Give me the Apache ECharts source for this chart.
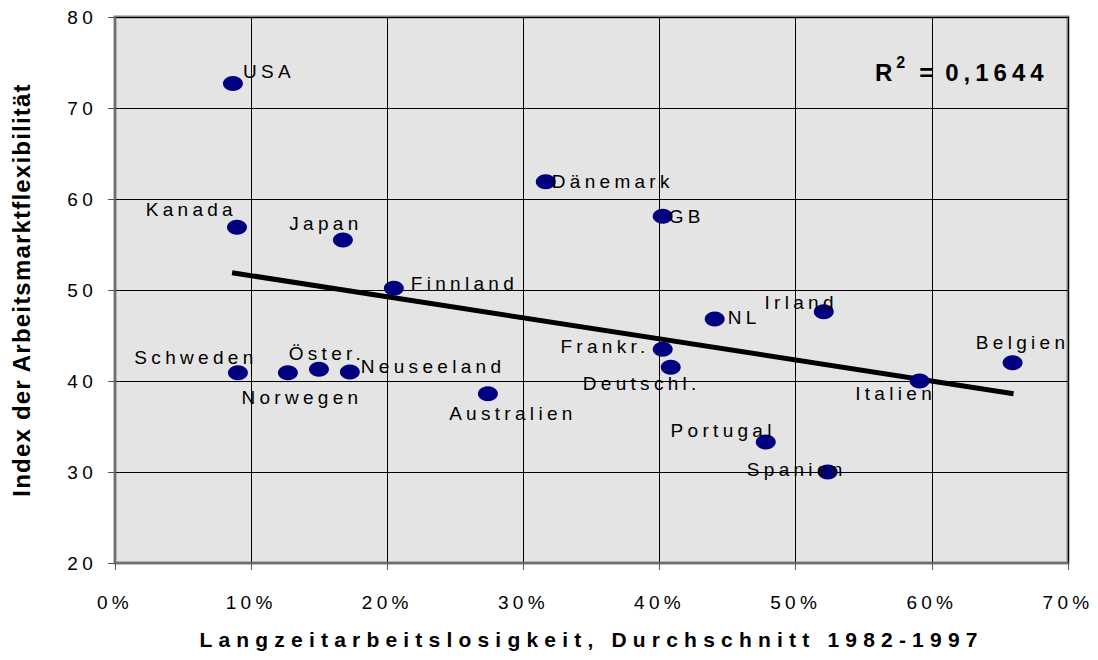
<!DOCTYPE html>
<html>
<head>
<meta charset="utf-8">
<script src="https://cdn.jsdelivr.net/npm/echarts@6/dist/echarts.min.js"></script>
<style>
html,body{margin:0;padding:0;background:#fff;}
#chart{width:1098px;height:660px;}
#chart svg text{letter-spacing:4.3px;}
</style>
</head>
<body>
<div id="chart"></div>
<script>
// data
var countries=['USA','Kanada','Japan','Dänemark','GB','Finnland','NL','Irland','Belgien','Frankr.','Deutschl.','Italien','Schweden','Norwegen','Öster.','Neuseeland','Australien','Portugal','Spanien'];
var unemployment=[0.0866,0.0896,0.1674,0.3164,0.4023,0.2048,0.4405,0.5206,0.6593,0.4023,0.4082,0.5910,0.0903,0.1270,0.1498,0.1725,0.2739,0.4780,0.5235];
var flexIndex=[72.7,56.9,55.5,61.9,58.1,50.2,46.8,47.6,42.0,43.5,41.5,40.0,40.9,40.9,41.3,41.0,38.6,33.3,30.0];
var trendX=[0.086,0.66];
var trendY=[51.9,38.6];
var rSquared='0,1644';

// where each name sits next to its dot: [dx, dy, align]
var labelPlace={
    'USA':[10,-12,'left'],
    'Kanada':[0,-18,'right'],
    'Japan':[-17,-16,'center'],
    'Dänemark':[6,0,'left'],
    'GB':[6,0,'left'],
    'Finnland':[17,-5,'left'],
    'NL':[13,-2,'left'],
    'Irland':[14,-9,'right'],
    'Belgien':[10,-20,'center'],
    'Frankr.':[-13,-3,'right'],
    'Deutschl.':[-29,16,'center'],
    'Italien':[-24,12,'center'],
    'Schweden':[-42,-15,'center'],
    'Norwegen':[14,25,'center'],
    'Öster.':[8,-16,'center'],
    'Neuseeland':[11,-5,'left'],
    'Australien':[25,20,'center'],
    'Portugal':[10,-11,'right'],
    'Spanien':[-31,-3,'center']
};

var points=[];
countries.forEach(function(name,i){
    var p=labelPlace[name];
    points.push({
        name:name,
        value:[unemployment[i],flexIndex[i]],
        label:{offset:[p[0],p[1]],align:p[2]}
    });
});

var trendData=[];
trendX.forEach(function(x,i){trendData.push([x,trendY[i]]);});

var font='"Liberation Sans", Arial, sans-serif';
var chart=echarts.init(document.getElementById('chart'),null,{renderer:'svg'});
var option={
    animation:false,
    backgroundColor:'#ffffff',
    title:{
        text:'{r|R}{s|2}{e|=}{r|'+rSquared+'}',
        left:870,
        top:49,
        textStyle:{
            rich:{
                r:{fontFamily:font,fontSize:24,fontWeight:'bold',color:'#000',verticalAlign:'bottom'},
                e:{fontFamily:font,fontSize:24,fontWeight:'bold',color:'#000',verticalAlign:'bottom',padding:[0,12,0,0]},
                s:{fontFamily:font,fontSize:16,fontWeight:'bold',color:'#000',verticalAlign:'top',padding:[0,14,14,4]}
            }
        }
    },
    grid:{left:115,right:30,top:17,bottom:97,show:true,backgroundColor:'#e4e4e4',
        borderWidth:3,borderColor:'#868686',outerBoundsMode:'none'},
    xAxis:{
        type:'value',
        min:0,max:0.7,interval:0.1,
        name:'Langzeitarbeitslosigkeit, Durchschnitt 1982-1997',
        nameLocation:'middle',
        nameGap:66,
        nameTextStyle:{fontFamily:font,fontSize:21,fontWeight:'bold',color:'#000'},
        axisLine:{show:true,onZero:false,lineStyle:{color:'#6e6e6e',width:2}},
        axisTick:{show:true,length:7,inside:false,lineStyle:{color:'#555',width:1}},
        axisLabel:{fontFamily:font,fontSize:19,color:'#000',margin:30,
            formatter:function(v){return Math.round(v*100)+'%';}},
        splitLine:{show:true,lineStyle:{color:'#000',width:1}}
    },
    yAxis:{
        type:'value',
        min:20,max:80,interval:10,
        name:'Index der Arbeitsmarktflexibilität',
        nameLocation:'middle',
        nameGap:82,
        nameTextStyle:{fontFamily:font,fontSize:24,fontWeight:'bold',color:'#000'},
        axisLine:{show:true,onZero:false,lineStyle:{color:'#6e6e6e',width:2}},
        axisTick:{show:true,length:7,inside:false,lineStyle:{color:'#555',width:1}},
        axisLabel:{fontFamily:font,fontSize:19,color:'#000',margin:18},
        splitLine:{show:true,lineStyle:{color:'#000',width:1}}
    },
    series:[{
        type:'line',
        data:trendData,
        symbol:'none',
        lineStyle:{color:'#000',width:5},
        silent:true,
        z:3
    },{
        type:'scatter',
        data:points,
        symbol:'circle',
        symbolSize:[20,15],
        itemStyle:{color:'#000080',opacity:1},
        label:{
            show:true,
            position:'inside',
            verticalAlign:'middle',
            formatter:'{b}',
            fontFamily:font,
            fontSize:19,
            color:'#000'
        },
        z:4
    }]
};
chart.setOption(option);

// spacing of the texts, as in the original
function spaceTexts(){
    var texts=document.querySelectorAll('#chart svg text');
    texts.forEach(function(t){
        var s=t.textContent;
        if(s.indexOf('Index der')===0){t.style.letterSpacing='1.2px';}
        else if(s.indexOf('Langzeit')===0){t.style.letterSpacing='6.2px';}
        else if(s===rSquared){t.style.letterSpacing='5px';}
    });
}
spaceTexts();
chart.on('finished',spaceTexts);
</script>
</body>
</html>
